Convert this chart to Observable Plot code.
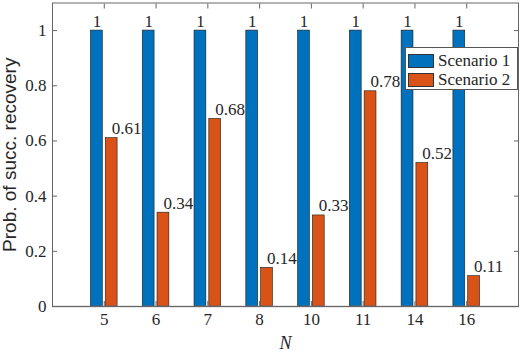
<!DOCTYPE html>
<html>
<head>
<meta charset="utf-8">
<script src="https://cdn.jsdelivr.net/npm/d3@7"></script>
<script src="https://cdn.jsdelivr.net/npm/@observablehq/plot@0.6"></script>
<style>
  html, body { margin: 0; padding: 0; background: #fff; }
  #wrap { position: relative; width: 520px; height: 352px; }
  #wrap svg text { font-family: "Liberation Serif", "DejaVu Serif", serif; }
  #wrap svg text.sans { font-family: "Liberation Sans", Arial, sans-serif; }
  #legend { position: absolute; left: 405px; top: 47px; width: 111px; height: 41px;
    border: 1px solid #555; background: #fff; font-family: "Liberation Serif", "DejaVu Serif", serif; font-size: 17px; color: #262626; }
  .row { position: absolute; left: 2px; height: 15px; display: flex; align-items: center; }
  .sw { width: 26px; height: 14px; border: 1px solid #333; box-sizing: border-box; margin-right: 4px; }
</style>
</head>
<body>
<div id="wrap"></div>
<script>
const categories = ["5", "6", "7", "8", "10", "11", "14", "16"];
const scenario1 = [1, 1, 1, 1, 1, 1, 1, 1];
const scenario2 = [0.61, 0.34, 0.68, 0.14, 0.33, 0.78, 0.52, 0.11];
const seriesNames = ["Scenario 1", "Scenario 2"];
const colors = ["#0072BD", "#D95319"];
const yTicks = [0, 0.2, 0.4, 0.6, 0.8, 1];

const positions = categories.map((c, i) => i + 1);
const groupOffset = 1 / 7;
const halfBar = 0.8 * (2 / 3.5) / 2 / 2;

const rows = categories.flatMap((c, i) => [
  {pos: i + 1, s: 0, v: scenario1[i]},
  {pos: i + 1, s: 1, v: scenario2[i]}
]);
const center = d => d.pos + (d.s === 0 ? -groupOffset : groupOffset);

const serif = "Liberation Serif";
const textColor = "#262626";

const chart = Plot.plot({
  width: 520,
  height: 352,
  marginLeft: 52,
  marginRight: 2,
  marginTop: 2.5,
  marginBottom: 46,
  style: "font-size: 17px; color: #262626; background: #fff;",
  x: {domain: [0, 9]},
  y: {domain: [0, 1.1]},
  color: {domain: seriesNames, range: colors},
  marks: [
    Plot.rect(rows, {
      x1: d => center(d) - halfBar,
      x2: d => center(d) + halfBar,
      y1: 0,
      y2: "v",
      fill: d => seriesNames[d.s],
      stroke: "#1a1a1a",
      strokeWidth: 0.6
    }),
    Plot.ruleY([0], {stroke: "#9a9a9a", strokeWidth: 1.5}),
    Plot.frame({stroke: "#666"}),
    Plot.text(rows.filter(d => d.s === 0), {
      x: center, y: "v", text: d => String(d.v),
      lineAnchor: "bottom", dy: -4, fontSize: 17, fill: textColor, fontFamily: serif
    }),
    Plot.text(rows.filter(d => d.s === 1), {
      x: center, y: "v", text: d => String(d.v),
      textAnchor: "start", lineAnchor: "bottom", dy: -4, fontSize: 17, fill: textColor, fontFamily: serif
    }),
    Plot.axisX(positions, {tickFormat: p => categories[p - 1], tickSize: -5, tickPadding: 11, label: null, stroke: "#666", fill: textColor, fontSize: 17}),
    Plot.axisX(positions, {anchor: "top", tickFormat: () => "", tickSize: -5, label: null, stroke: "#666"}),
    Plot.axisY(yTicks, {tickFormat: d => String(d), tickSize: -5, tickPadding: 11, label: null, stroke: "#666", fill: textColor, fontSize: 17}),
    Plot.axisY(yTicks, {anchor: "right", tickFormat: () => "", tickSize: -5, label: null, stroke: "#666"}),
    Plot.text(["Prob. of succ. recovery"], {
      frameAnchor: "left", rotate: -90, dx: -43, textAnchor: "middle", lineAnchor: "middle",
      fontFamily: "Liberation Sans", fontSize: 19, fill: textColor, className: "sans"
    }),
    Plot.text(["N"], {
      frameAnchor: "bottom", dy: 37, textAnchor: "middle", lineAnchor: "middle",
      fontStyle: "italic", fontSize: 18, fill: textColor, fontFamily: serif
    })
  ]
});

const wrap = document.getElementById("wrap");
wrap.appendChild(chart);
// mark the y label text as sans
chart.querySelectorAll("text").forEach(t => {
  if (t.textContent === "Prob. of succ. recovery") t.classList.add("sans");
});

const legend = document.createElement("div");
legend.id = "legend";
seriesNames.forEach((name, i) => {
  const row = document.createElement("div");
  row.className = "row";
  row.style.top = (5 + i * 19) + "px";
  const sw = document.createElement("div");
  sw.className = "sw";
  sw.style.background = colors[i];
  const label = document.createElement("span");
  label.textContent = name;
  row.appendChild(sw);
  row.appendChild(label);
  legend.appendChild(row);
});
wrap.appendChild(legend);
</script>
</body>
</html>
